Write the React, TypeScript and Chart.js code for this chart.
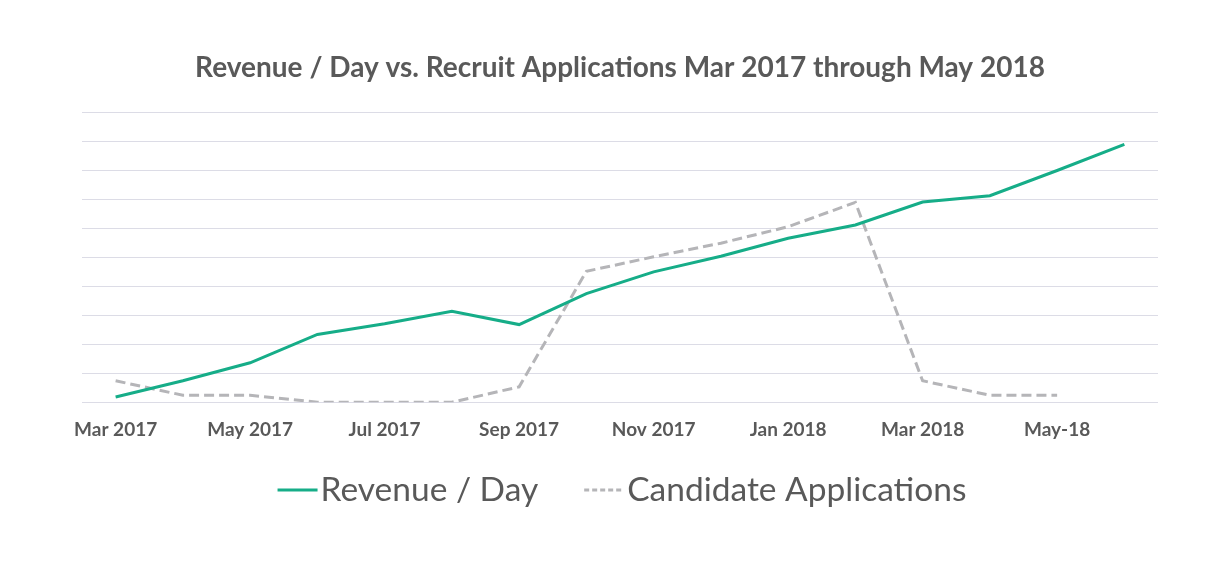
import React, { useEffect, useRef } from "react";
import { Chart, registerables } from "chart.js";

Chart.register(...registerables);

const months = [
  "Mar 2017", "Apr 2017", "May 2017", "Jun 2017", "Jul 2017", "Aug 2017",
  "Sep 2017", "Oct 2017", "Nov 2017", "Dec 2017", "Jan 2018", "Feb 2018",
  "Mar 2018", "Apr 2018", "May-18", "Jun-18",
];
const revenuePerDay = [0.18, 0.74, 1.36, 2.34, 2.71, 3.14, 2.68, 3.75, 4.5, 5.04, 5.66, 6.12, 6.91, 7.13, 8.0, 8.9];
const candidateApplications = [0.74, 0.24, 0.24, 0, 0, 0, 0.53, 4.52, 5.02, 5.49, 6.06, 6.9, 0.74, 0.24, 0.24];

const TEXT = "#595959";
const GREEN = "#16ad88";
const GRAY = "#b5b5b8";
const FONT = "Lato, 'Open Sans', sans-serif";

const legendPlugin = {
  id: "customLegend",
  afterDraw(chart: any) {
    const ctx = chart.ctx;
    const items = chart.data.datasets.map((d: any) => ({ label: d.label, color: d.borderColor, dash: d.borderDash || [] }));
    ctx.save();
    ctx.font = `33.5px ${FONT}`;
    const lineW = 40;
    const gapText = 3;
    const gapItem = 46;
    const widths = items.map((it: any) => lineW + gapText + ctx.measureText(it.label).width);
    const total = widths.reduce((a: number, b: number) => a + b, 0) + gapItem * (items.length - 1);
    let x = 622 - total / 2;
    const y = 490;
    items.forEach((it: any, i: number) => {
      ctx.strokeStyle = it.color;
      ctx.lineWidth = 3;
      ctx.setLineDash(it.dash.length ? [5, 3] : []);
      ctx.beginPath();
      ctx.moveTo(x, y);
      ctx.lineTo(x + lineW, y);
      ctx.stroke();
      ctx.setLineDash([]);
      ctx.fillStyle = TEXT;
      ctx.textBaseline = "middle";
      ctx.textAlign = "left";
      ctx.fillText(it.label, x + lineW + gapText, y);
      x += widths[i] + gapItem;
    });
    ctx.restore();
  },
};

export default function App() {
  const canvasRef = useRef<HTMLCanvasElement | null>(null);

  useEffect(() => {
    document.body.style.margin = "0";
    const canvas = canvasRef.current;
    if (!canvas) return;
    const chart = new Chart(canvas, {
      type: "line",
      data: {
        labels: months,
        datasets: [
          {
            label: "Revenue / Day",
            data: revenuePerDay,
            borderColor: GREEN,
            backgroundColor: GREEN,
            borderWidth: 3,
            pointRadius: 0,
            tension: 0,
          },
          {
            label: "Candidate Applications",
            data: candidateApplications,
            borderColor: GRAY,
            backgroundColor: GRAY,
            borderWidth: 3,
            borderDash: [10, 5],
            pointRadius: 0,
            tension: 0,
          },
        ],
      },
      options: {
        animation: false,
        responsive: false,
        maintainAspectRatio: false,
        layout: { padding: { left: 82, right: 66, top: 0, bottom: 106 } },
        plugins: {
          legend: { display: false },
          tooltip: { enabled: false },
          title: {
            display: true,
            text: "Revenue / Day vs. Recruit Applications Mar 2017 through May 2018",
            color: TEXT,
            font: { family: FONT, size: 28, weight: "bold" },
            padding: { top: 51, bottom: 28 },
          },
        },
        scales: {
          x: {
            offset: true,
            grid: { display: false, drawTicks: false },
            border: { display: false },
            ticks: {
              autoSkip: false,
              maxRotation: 0,
              padding: 16,
              color: TEXT,
              font: { family: FONT, size: 19, weight: "bold" },
              callback: (_v: any, i: number) => (i % 2 === 0 ? months[i] : ""),
            },
          },
          y: {
            min: 0,
            max: 10,
            ticks: { display: false, stepSize: 1 },
            grid: { color: "#dcdce6", lineWidth: 1, drawTicks: false },
            border: { display: false },
          },
        },
      },
      plugins: [legendPlugin],
    });
    return () => chart.destroy();
  }, []);

  return (
    <div style={{ width: 1224, height: 563, background: "#fff" }}>
      <canvas ref={canvasRef} width={1224} height={563} style={{ display: "block" }} />
    </div>
  );
}
